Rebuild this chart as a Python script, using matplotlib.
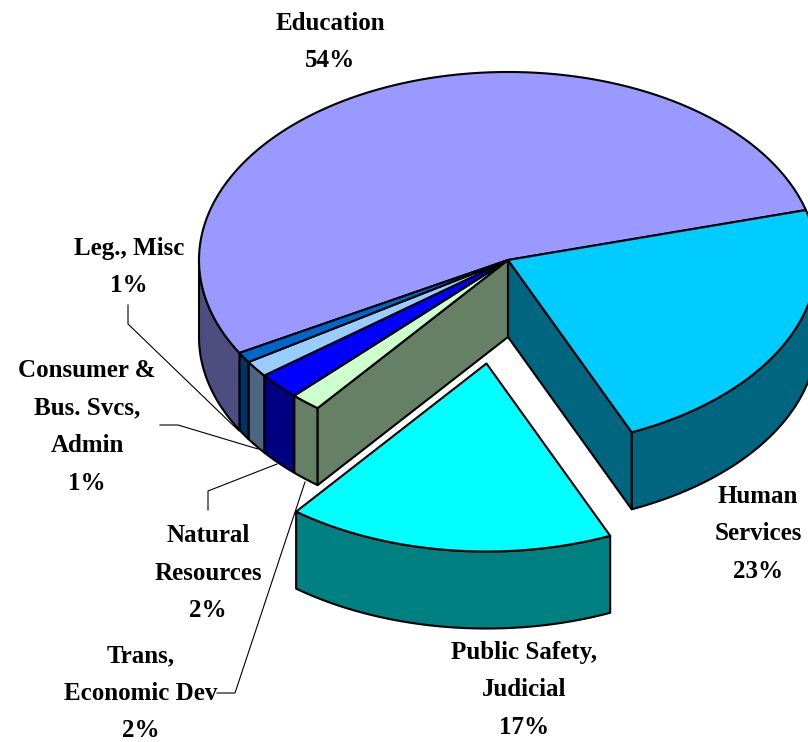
import numpy as np
import matplotlib
matplotlib.use('Agg')
import matplotlib.pyplot as plt
from matplotlib.patches import Polygon

plt.rcParams['font.family'] = ['Liberation Serif', 'DejaVu Serif']

# clockwise from the Human Services edge
names = ['Human\nServices\n23%', 'Public Safety,\nJudicial\n17%', 'Trans,\nEconomic Dev\n2%',
         'Natural\nResources\n2%', 'Consumer &\nBus. Svcs,\nAdmin\n1%', 'Leg., Misc\n1%', 'Education\n54%']
values = [22.7, 17.1, 1.6, 2.3, 1.4, 0.9, 53.9]
top_colors = ['#00CCFF', '#00FFFF', '#CCFFCC', '#0000FF', '#99CCFF', '#0066CC', '#9999FF']
side_colors = ['#006680', '#008080', '#668066', '#000080', '#4D6680', '#003366', '#4D4D80']
exploded = [0, 0.555, 0, 0, 0, 0, 0]

label_x = [758, 524, 141, 208, 87, 129, 330]
label_y = [534, 690, 693, 573, 427, 267, 42]

leader_x = [[128, 128, 239], [160, 178, 258], [208, 208, 277], [217, 235, 305]]
leader_y = [[305, 324, 431], [425, 425, 449], [510, 491, 464], [693, 693, 482]]

cx, cy = 508, 260
rx, ry = 309, 188
depth = 77
start = 15.4
edge = 1.5

fig = plt.figure(figsize=(8.08, 7.42), dpi=100)
ax = fig.add_axes([0, 0, 1, 1])
ax.set_xlim(0, 808)
ax.set_ylim(742, 0)
ax.axis('off')


def rim(a, ox=0, oy=0):
    a = np.radians(a)
    return cx + ox + rx * np.cos(a), cy + oy - ry * np.sin(a)


def poly(xs, ys, color, z):
    ax.add_patch(Polygon(np.column_stack([xs, ys]), closed=True, facecolor=color,
                         edgecolor='black', linewidth=edge, joinstyle='round', zorder=z))


sweeps = np.array(values) / sum(values) * 360
ends = start - np.cumsum(sweeps)
starts = ends + sweeps
last = len(values) - 1

for i in range(len(values)):
    mid = np.radians((starts[i] + ends[i]) / 2)
    ox = exploded[i] * rx * np.cos(mid)
    oy = -exploded[i] * ry * np.sin(mid)

    # front wall, only the part of the arc below the centre line
    if i == last:
        arc = np.linspace(-180, starts[i], 30)
    else:
        arc = np.linspace(ends[i], min(starts[i], 0), 80)
    x, y = rim(arc, ox, oy)
    poly(np.r_[x, x[::-1]], np.r_[y, y[::-1] + depth], side_colors[i], 2 + i * 0.01)

# cut faces of the unexploded block
for i, a in [(0, ends[0]), (2, starts[2])]:
    x, y = rim(a)
    poly([cx, x, x, cx], [cy, y, y + depth, cy + depth], side_colors[i], 3)

for i in range(len(values)):
    mid = np.radians((starts[i] + ends[i]) / 2)
    ox = exploded[i] * rx * np.cos(mid)
    oy = -exploded[i] * ry * np.sin(mid)
    x, y = rim(np.linspace(starts[i], ends[i], max(int(sweeps[i]) * 2, 3)), ox, oy)
    z = 4 if i != last else 3.5
    poly(np.r_[cx + ox, x], np.r_[cy + oy, y], top_colors[i], z)

for lx, ly in zip(leader_x, leader_y):
    ax.plot(lx, ly, color='black', lw=0.8, zorder=6, solid_joinstyle='miter')

for name, x, y in zip(names, label_x, label_y):
    ax.text(x, y, name, ha='center', va='center', fontsize=18, fontweight='bold',
            linespacing=1.8, color='black', zorder=7, clip_on=False)

fig.savefig('out.png', dpi=100)
